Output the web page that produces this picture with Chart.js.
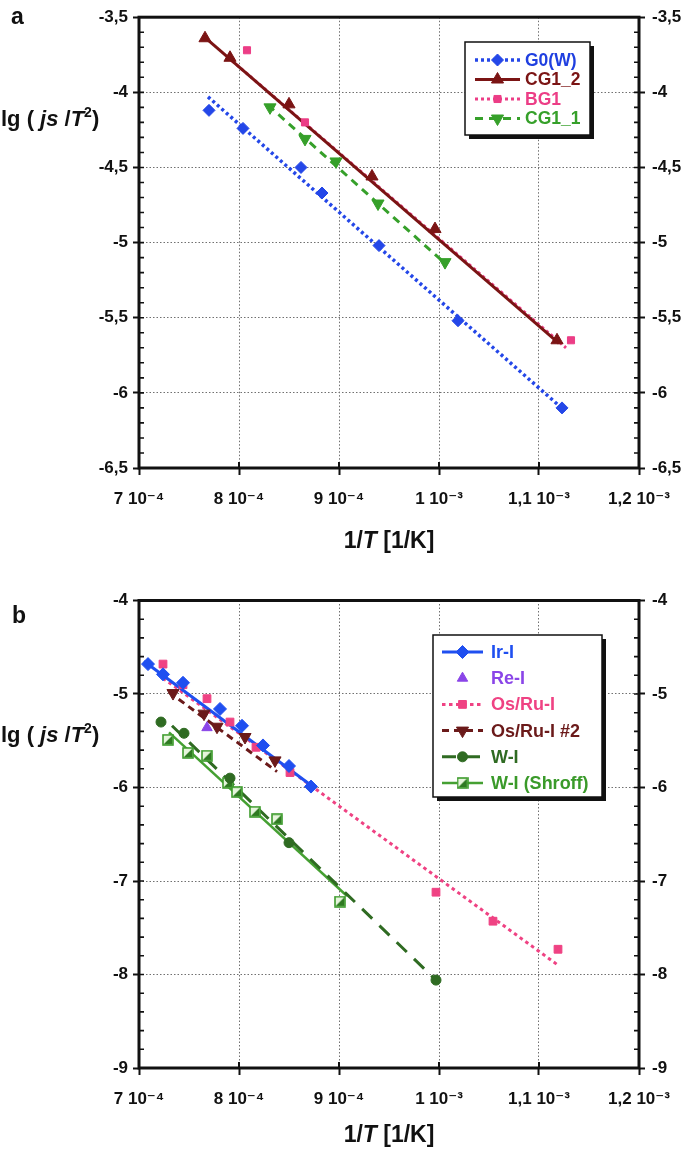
<!DOCTYPE html>
<html><head><meta charset="utf-8">
<script src="https://cdn.jsdelivr.net/npm/chart.js@4.4.1/dist/chart.umd.min.js"></script>
<style>
html,body{margin:0;padding:0;background:#fff;}
canvas{position:absolute;left:0;}
#ca{top:0;}
#cb{top:575px;}
</style></head><body>
<canvas id="ca" width="685" height="575"></canvas>
<canvas id="cb" width="685" height="576"></canvas>
<script>
// ---------- tick labels ----------
const xTickLabels = ["7 10\u207B\u2074", "8 10\u207B\u2074", "9 10\u207B\u2074", "1 10\u207B\u00B3", "1,1 10\u207B\u00B3", "1,2 10\u207B\u00B3"];

// ---------- panel a data ----------
const g0X = [7.70e-4, 8.04e-4, 8.62e-4, 8.83e-4, 9.40e-4, 10.19e-4, 11.23e-4];
const g0Y = [-4.12, -4.24, -4.50, -4.67, -5.02, -5.52, -6.10];
const g0FitX = [7.69e-4, 11.26e-4];
const g0FitY = [-4.03, -6.12];

const cg12X = [7.66e-4, 7.91e-4, 8.50e-4, 9.33e-4, 9.96e-4, 11.18e-4];
const cg12Y = [-3.64, -3.77, -4.08, -4.56, -4.91, -5.65];
const cg12FitX = [7.65e-4, 11.20e-4];
const cg12FitY = [-3.63, -5.67];

const bg1X = [8.08e-4, 8.66e-4, 11.32e-4];
const bg1Y = [-3.72, -4.20, -5.65];
const bg1FitX = [7.93e-4, 11.27e-4];
const bg1FitY = [-3.79, -5.70];

const cg11X = [8.31e-4, 8.66e-4, 8.97e-4, 9.39e-4, 10.06e-4];
const cg11Y = [-4.10, -4.31, -4.46, -4.74, -5.13];
const cg11FitX = [8.29e-4, 10.08e-4];
const cg11FitY = [-4.085, -5.15];

// ---------- panel b data ----------
const irX = [7.09e-4, 7.24e-4, 7.44e-4, 7.81e-4, 8.03e-4, 8.24e-4, 8.50e-4, 8.72e-4];
const irY = [-4.68, -4.79, -4.88, -5.16, -5.34, -5.55, -5.77, -5.99];
const irFitX = [7.05e-4, 8.75e-4];
const irFitY = [-4.65, -6.00];

const reX = [7.68e-4];
const reY = [-5.36];

const osX = [7.24e-4, 7.44e-4, 7.68e-4, 7.91e-4, 8.17e-4, 8.51e-4, 9.97e-4, 10.54e-4, 11.19e-4];
const osY = [-4.68, -4.90, -5.05, -5.30, -5.57, -5.84, -7.12, -7.43, -7.73];
const osFitX = [7.24e-4, 11.19e-4];
const osFitY = [-4.83, -7.90];

const os2X = [7.34e-4, 7.65e-4, 7.78e-4, 8.06e-4, 8.36e-4];
const os2Y = [-4.99, -5.21, -5.35, -5.46, -5.71];
const os2FitX = [7.30e-4, 8.38e-4];
const os2FitY = [-4.98, -5.83];

const wX = [7.22e-4, 7.45e-4, 7.91e-4, 8.50e-4, 9.97e-4];
const wY = [-5.30, -5.42, -5.90, -6.59, -8.06];
const wFitX = [7.33e-4, 9.97e-4];
const wFitY = [-5.34, -8.06];

const shX = [7.29e-4, 7.49e-4, 7.68e-4, 7.89e-4, 7.98e-4, 8.16e-4, 8.38e-4, 9.01e-4];
const shY = [-5.49, -5.63, -5.66, -5.95, -6.05, -6.26, -6.34, -7.22];
const shFitX = [7.30e-4, 9.08e-4];
const shFitY = [-5.41, -7.16];

// ---------- helpers ----------
const FAM = "'Liberation Sans', Arial, 'DejaVu Sans', sans-serif";
const pts = (xs, ys) => xs.map((x, i) => ({x: x, y: ys[i]}));

function shroffMarker() {
  const c = document.createElement('canvas');
  c.width = 12; c.height = 12;
  const g = c.getContext('2d');
  g.fillStyle = '#e6f5dc'; g.fillRect(1, 1, 10, 10);
  g.fillStyle = '#2f7a22';
  g.beginPath(); g.moveTo(10.5, 1.5); g.lineTo(10.5, 10.5); g.lineTo(1.5, 10.5); g.closePath(); g.fill();
  g.strokeStyle = '#3d9c2c'; g.lineWidth = 1.6; g.strokeRect(1, 1, 10, 10);
  return c;
}
const SHROFF = shroffMarker();

function buildDatasets(series) {
  const ds = [];
  series.forEach(s => {
    if (s.fitX) {
      ds.push({label: s.label + ' fit', data: pts(s.fitX, s.fitY), showLine: true, borderColor: s.color,
        borderDash: s.dash, borderWidth: s.lw, pointRadius: 0, fill: false, order: 2});
    }
    ds.push({label: s.label, data: pts(s.x, s.y), showLine: false, pointStyle: s.ps, rotation: s.rot || 0,
      pointRadius: s.r, backgroundColor: s.color, borderColor: s.color, borderWidth: 1, order: 1});
  });
  return ds;
}

function drawRich(ctx, parts, x, y, size, align) {
  const fonts = parts.map(p => (p.i ? 'italic ' : '') + 'bold ' + (p.sup ? Math.round(size * 0.65) : size) + 'px ' + FAM);
  let w = 0;
  const ws = parts.map((p, k) => { ctx.font = fonts[k]; const m = ctx.measureText(p.t).width; w += m; return m; });
  let cx = align === 'center' ? x - w / 2 : (align === 'right' ? x - w : x);
  ctx.textBaseline = 'alphabetic'; ctx.textAlign = 'left';
  parts.forEach((p, k) => { ctx.font = fonts[k]; ctx.fillText(p.t, cx, p.sup ? y - size * 0.42 : y); cx += ws[k]; });
}

const extras = {
  id: 'extras',
  afterDraw(chart, args, o) {
    const ctx = chart.ctx, a = chart.chartArea, xs = chart.scales.x, ys = chart.scales.y;
    ctx.save();
    // minor ticks left/right (inside)
    ctx.strokeStyle = '#111'; ctx.lineWidth = 1.6;
    const n = Math.round((ys.max - ys.min) / o.minor);
    ctx.beginPath();
    for (let i = 1; i < n; i++) {
      const y = ys.getPixelForValue(ys.min + i * o.minor);
      ctx.moveTo(a.left, y); ctx.lineTo(a.left + 5, y);
      ctx.moveTo(a.right, y); ctx.lineTo(a.right - 5, y);
    }
    ctx.stroke();
    // x major ticks inside
    ctx.lineWidth = 2;
    ctx.beginPath();
    xs.ticks.forEach(t => { const x = xs.getPixelForValue(t.value); ctx.moveTo(x, a.bottom); ctx.lineTo(x, a.bottom - 6); });
    ctx.stroke();
    // frame
    ctx.lineWidth = 3; ctx.strokeStyle = '#111';
    ctx.strokeRect(a.left, a.top, a.right - a.left, a.bottom - a.top);
    // titles
    ctx.fillStyle = '#111';
    drawRich(ctx, [{t: '1/'}, {t: 'T', i: true}, {t: ' [1/K]'}], (a.left + a.right) / 2, a.bottom + o.xTitleOff, 23, 'center');
    drawRich(ctx, [{t: 'lg ( '}, {t: 'js', i: true}, {t: ' /'}, {t: 'T', i: true}, {t: '2', sup: true}, {t: ')'}], 1, o.yTitleY, 22, 'left');
    ctx.font = 'bold 23px ' + FAM; ctx.textAlign = 'left'; ctx.textBaseline = 'alphabetic';
    ctx.fillText(o.letter, o.letterX, o.letterY);
    // legend
    const L = o.legend;
    ctx.fillStyle = '#111';
    ctx.fillRect(L.x + 4, L.y + 4, L.w, L.h);
    ctx.fillStyle = '#fff';
    ctx.fillRect(L.x, L.y, L.w, L.h);
    ctx.lineWidth = 1.5; ctx.strokeStyle = '#111';
    ctx.strokeRect(L.x, L.y, L.w, L.h);
    o.series.forEach((s, k) => {
      const yy = L.y + L.first + k * L.step;
      if (s.fitX) {
        ctx.save();
        ctx.strokeStyle = s.color; ctx.lineWidth = s.lw; ctx.setLineDash(s.dash || []);
        ctx.beginPath(); ctx.moveTo(L.x + L.l0, yy); ctx.lineTo(L.x + L.l1, yy); ctx.stroke();
        ctx.restore();
      }
      ctx.fillStyle = s.color; ctx.strokeStyle = s.color; ctx.lineWidth = 1;
      Chart.helpers.drawPoint(ctx, {pointStyle: s.ps, rotation: s.rot || 0, radius: s.r, borderWidth: 1}, L.x + (L.l0 + L.l1) / 2, yy);
      ctx.fillStyle = s.tc || s.color;
      ctx.font = 'bold ' + L.fs + 'px ' + FAM; ctx.textAlign = 'left'; ctx.textBaseline = 'middle';
      ctx.fillText(s.label, L.x + L.tx, yy + 1);
    });
    ctx.restore();
  }
};

function makeChart(id, series, ymin, ymax, ystep, topPad, xH, extraOpts) {
  const tickFont = {family: FAM, size: 17, weight: 'bold'};
  const yfmt = v => (Math.round(v * 10) / 10).toString().replace('.', ',');
  return new Chart(document.getElementById(id), {
    type: 'scatter',
    data: {datasets: buildDatasets(series)},
    options: {
      responsive: false, animation: false,
      layout: {padding: {top: topPad, left: 0, right: 0, bottom: 0}},
      plugins: {legend: {display: false}, tooltip: {enabled: false}, extras: extraOpts},
      scales: {
        x: {type: 'linear', position: 'bottom', min: 7e-4, max: 1.2e-3,
          ticks: {stepSize: 1e-4, autoSkip: false, maxRotation: 0, padding: 14, color: '#111', font: tickFont,
            callback: (v, i) => xTickLabels[i]},
          grid: {color: '#707070', lineWidth: 1, tickLength: 7, tickColor: '#111', tickWidth: 2},
          border: {display: false, dash: [1.5, 2]},
          afterFit: s => { s.height = xH; }},
        y: {type: 'linear', position: 'left', min: ymin, max: ymax,
          ticks: {stepSize: ystep, padding: 5, color: '#111', font: tickFont, callback: yfmt},
          grid: {color: '#707070', lineWidth: 1, tickLength: 6, tickColor: '#111', tickWidth: 2},
          border: {display: false, dash: [1.5, 2]},
          afterFit: s => { s.width = 139; }},
        y2: {type: 'linear', position: 'right', min: ymin, max: ymax,
          ticks: {stepSize: ystep, padding: 7, color: '#111', font: tickFont, callback: yfmt},
          grid: {drawOnChartArea: false, tickLength: 6, tickColor: '#111', tickWidth: 2},
          border: {display: false},
          afterFit: s => { s.width = 46; }}
      }
    },
    plugins: [extras]
  });
}

// ---------- panel a ----------
const seriesA = [
  {label: 'G0(W)', x: g0X, y: g0Y, fitX: g0FitX, fitY: g0FitY, color: '#2447e8', tc: '#1f3fe0', dash: [3, 3], lw: 3.5, ps: 'rectRot', r: 6},
  {label: 'CG1_2', x: cg12X, y: cg12Y, fitX: cg12FitX, fitY: cg12FitY, color: '#7b1414', dash: [], lw: 3, ps: 'triangle', r: 7},
  {label: 'BG1', x: bg1X, y: bg1Y, fitX: bg1FitX, fitY: bg1FitY, color: '#ec3d86', dash: [3, 3], lw: 3, ps: 'rect', r: 5},
  {label: 'CG1_1', x: cg11X, y: cg11Y, fitX: cg11FitX, fitY: cg11FitY, color: '#36a02a', dash: [8, 6], lw: 3, ps: 'triangle', rot: 180, r: 7}
];
makeChart('ca', seriesA, -6.5, -3.5, 0.5, 11, 575 - 468, {
  minor: 0.1, xTitleOff: 80, yTitleY: 126, letter: 'a', letterX: 11, letterY: 24,
  legend: {x: 465, y: 42, w: 125, h: 93, first: 18, step: 19.5, l0: 10, l1: 55, tx: 60, fs: 17.5},
  series: seriesA
});

// ---------- panel b ----------
const seriesB = [
  {label: 'Ir-I', x: irX, y: irY, fitX: irFitX, fitY: irFitY, color: '#1f4ff0', dash: [], lw: 3, ps: 'rectRot', r: 6.5},
  {label: 'Re-I', x: reX, y: reY, color: '#8a45e8', ps: 'triangle', r: 6},
  {label: 'Os/Ru-I', x: osX, y: osY, fitX: osFitX, fitY: osFitY, color: '#ef4283', dash: [3.5, 3.5], lw: 3, ps: 'rect', r: 5.5},
  {label: 'Os/Ru-I #2', x: os2X, y: os2Y, fitX: os2FitX, fitY: os2FitY, color: '#6b1a1a', dash: [7, 5], lw: 3, ps: 'triangle', rot: 180, r: 7},
  {label: 'W-I', x: wX, y: wY, fitX: wFitX, fitY: wFitY, color: '#2f6b22', dash: [14, 10], lw: 3, ps: 'circle', r: 5},
  {label: 'W-I (Shroff)', x: shX, y: shY, fitX: shFitX, fitY: shFitY, color: '#45a032', tc: '#3a9a2a', dash: [], lw: 2.5, ps: SHROFF, r: 6}
];
makeChart('cb', seriesB, -9, -4, 1, 25.5, 576 - 493, {
  minor: 0.2, xTitleOff: 74, yTitleY: 167, letter: 'b', letterX: 12, letterY: 48,
  legend: {x: 433, y: 60, w: 169, h: 162, first: 17, step: 26.2, l0: 9, l1: 50, tx: 58, fs: 18},
  series: seriesB
});
</script>
</body></html>
